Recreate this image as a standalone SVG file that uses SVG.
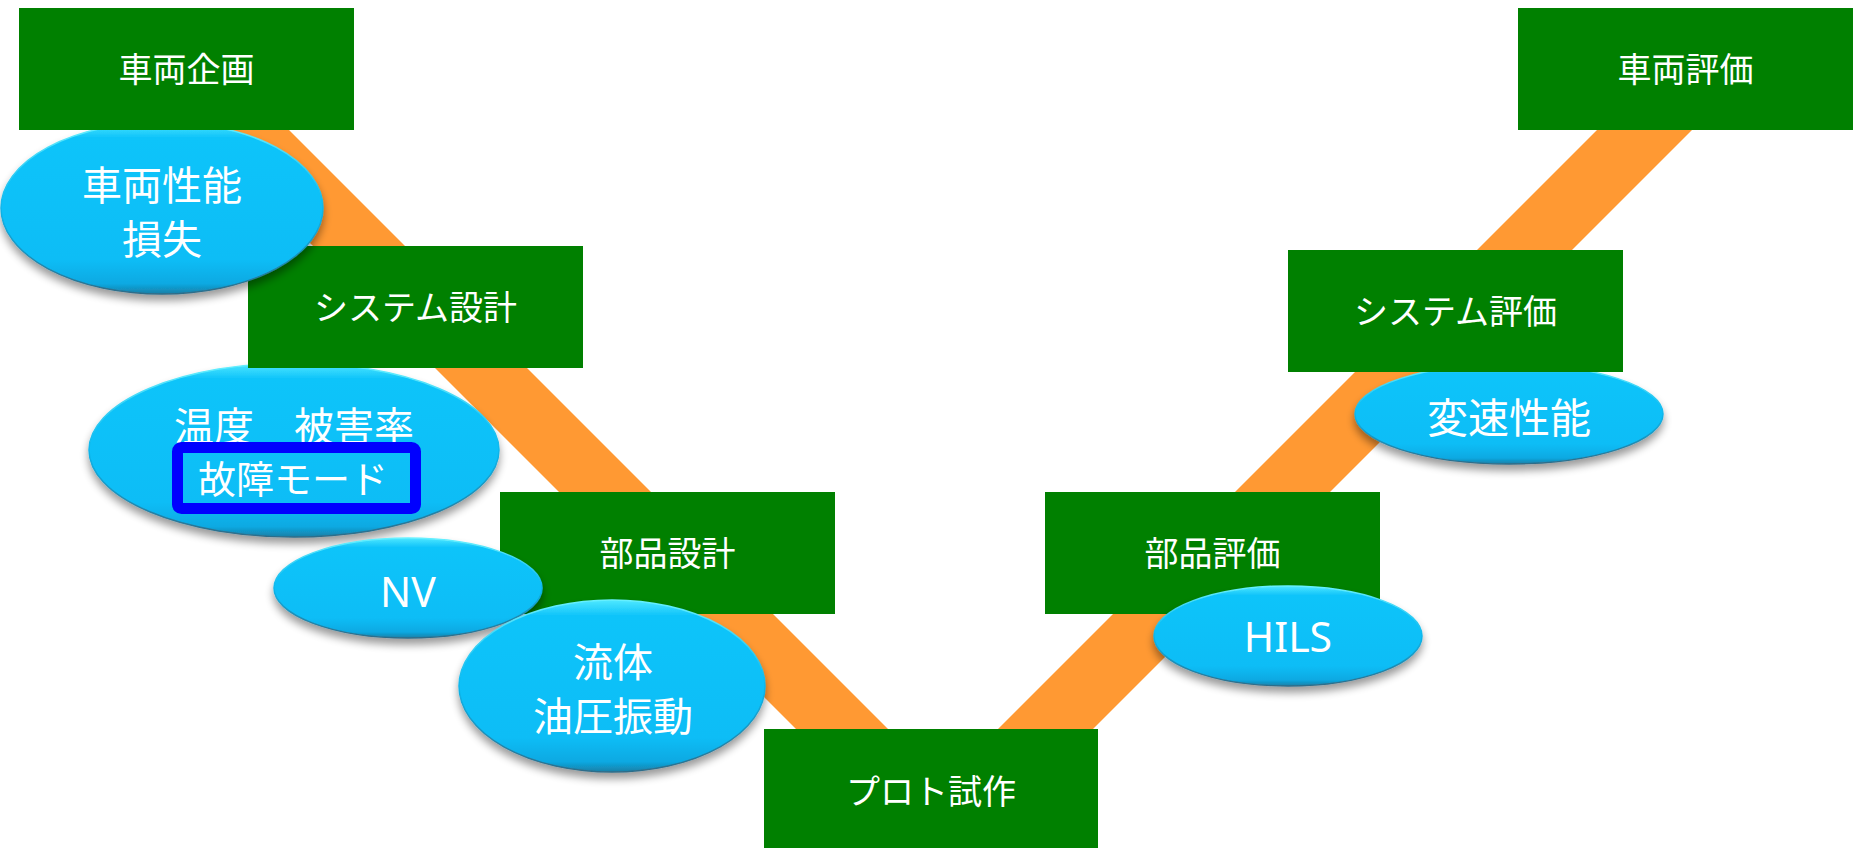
<svg xmlns="http://www.w3.org/2000/svg" width="1860" height="848" viewBox="0 0 1860 848">
<defs>
<linearGradient id="ellFill" x1="0" y1="0" x2="0" y2="1">
<stop offset="0" stop-color="#4FE8FF"/>
<stop offset="0.09" stop-color="#10C4FA"/>
<stop offset="0.8" stop-color="#07BDF6"/>
<stop offset="0.94" stop-color="#0AA9E2"/>
<stop offset="1" stop-color="#1A7FA6"/>
</linearGradient>
<linearGradient id="ellStroke" x1="0" y1="0" x2="0" y2="1">
<stop offset="0" stop-color="#66F0FF"/>
<stop offset="0.5" stop-color="#0DB6EC"/>
<stop offset="1" stop-color="#2F6C88"/>
</linearGradient>
<filter id="shadow" x="-10%" y="-10%" width="120%" height="130%">
<feGaussianBlur in="SourceAlpha" stdDeviation="4"/>
<feOffset dx="0" dy="6" result="b"/>
<feComponentTransfer in="b" result="s"><feFuncA type="linear" slope="0.4"/></feComponentTransfer>
<feMerge><feMergeNode in="s"/><feMergeNode in="SourceGraphic"/></feMerge>
</filter>
</defs>
<style>
.box{fill:#008000}
.bt{fill:#ffffff;font-family:"Noto Sans CJK JP","Noto Sans",sans-serif;font-size:34px;text-anchor:middle}
.ell{fill:url(#ellFill);stroke:url(#ellStroke);stroke-width:1.5;filter:url(#shadow)}
.et{fill:#ffffff;font-family:"Noto Sans CJK JP","Noto Sans",sans-serif;font-size:41px;text-anchor:middle}
.et2{fill:#ffffff;font-family:"Noto Sans CJK JP","Noto Sans",sans-serif;font-size:40px;text-anchor:middle}
.lt{fill:#ffffff;font-family:"Noto Sans","Noto Sans CJK JP",sans-serif;font-size:41px;text-anchor:middle}
.stripe{fill:#FF9933}
</style>
<rect width="1860" height="848" fill="#ffffff"/>
<g id="connectors">
<polygon class="stripe" points="177,110 269,110 919,760 827,760"/>
<polygon class="stripe" points="1617,110 1712,110 1062,760 967,760"/>
</g>
<g id="e-onsdo">
<ellipse class="ell" cx="294" cy="450" rx="205" ry="87"/>
<text class="et"><tspan x="294" y="441" font-size="40">温度　被害率</tspan><tspan x="293" y="493" font-size="38">故障モード</tspan></text>
<rect x="177.5" y="447.5" width="238" height="61" rx="4" fill="none" stroke="#0000FF" stroke-width="11"/>
</g>
<g id="n-system-sekkei">
<rect class="box" x="248" y="246" width="335" height="122"/>
<text class="bt" x="415.5" y="320">システム設計</text>
</g>
<g id="e-sharyo-seino">
<ellipse class="ell" cx="162" cy="208" rx="161" ry="86"/>
<text class="et2"><tspan x="162" y="200">車両性能</tspan><tspan x="162" y="254">損失</tspan></text>
</g>
<g id="n-sharyo-kikaku">
<rect class="box" x="19" y="8" width="335" height="122"/>
<text class="bt" x="186.5" y="82">車両企画</text>
</g>
<g id="n-buhin-sekkei">
<rect class="box" x="500" y="492" width="335" height="122"/>
<text class="bt" x="667.5" y="566">部品設計</text>
</g>
<g id="e-nv">
<ellipse class="ell" cx="408" cy="588" rx="134" ry="50"/>
<text class="lt" x="408" y="607">NV</text>
</g>
<g id="e-ryutai">
<ellipse class="ell" cx="612" cy="686" rx="153" ry="86"/>
<text class="et2"><tspan x="613" y="677">流体</tspan><tspan x="613" y="731">油圧振動</tspan></text>
</g>
<g id="n-proto">
<rect class="box" x="764" y="729" width="334" height="122"/>
<text class="bt" x="931" y="804">プロト試作</text>
</g>
<g id="e-hensoku">
<ellipse class="ell" cx="1509" cy="414" rx="154" ry="50"/>
<text class="et" x="1509" y="433">変速性能</text>
</g>
<g id="n-system-hyoka">
<rect class="box" x="1288" y="250" width="335" height="122"/>
<text class="bt" x="1455.5" y="324">システム評価</text>
</g>
<g id="n-buhin-hyoka">
<rect class="box" x="1045" y="492" width="335" height="122"/>
<text class="bt" x="1212.5" y="566">部品評価</text>
</g>
<g id="e-hils">
<ellipse class="ell" cx="1288" cy="636" rx="134" ry="50"/>
<text class="lt" x="1288" y="652">HILS</text>
</g>
<g id="n-sharyo-hyoka">
<rect class="box" x="1518" y="8" width="335" height="122"/>
<text class="bt" x="1685.5" y="82">車両評価</text>
</g>
</svg>
